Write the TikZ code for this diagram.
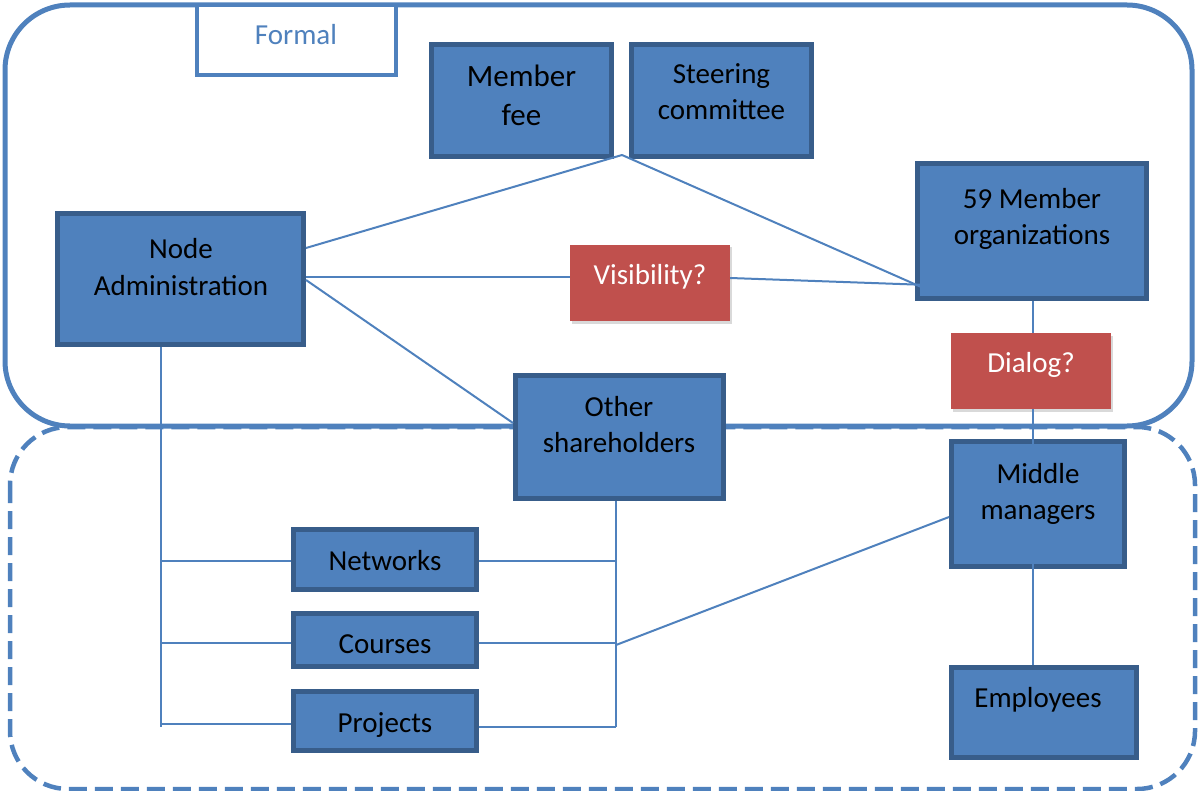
\documentclass[tikz,border=0pt]{standalone}
\usepackage{fontspec}
\setmainfont{Carlito}
\usetikzlibrary{shadows,calc}
\definecolor{accent}{HTML}{4F81BD}
\definecolor{accentdark}{HTML}{385D8A}
\definecolor{alert}{HTML}{C0504D}
% two centred lines whose first baseline is the box baseline
\newcommand{\twolines}[2]{\begin{tabular}[t]{@{}c@{}}#1\\#2\end{tabular}}

\begin{document}
\begin{tikzpicture}[x=1pt,y=-1pt,
  every node/.style={font=\fontsize{29}{36}\selectfont},
  bluebox/.style={draw=accentdark, line width=5pt, fill=accent, inner sep=0pt},
  redbox/.style={fill=alert, inner sep=0pt,
    drop shadow={shadow xshift=1.5pt, shadow yshift=-2.5pt, opacity=0.3}},
  lbl/.style={anchor=base, inner sep=0pt, text=black},
  wire/.style={draw=accent, line width=2pt},
  frame/.style={draw=accent, line width=5pt},
]
\useasboundingbox (0,0) rectangle (1198,791);

% informal area (dashed) and formal area (solid)
\draw[frame, line width=4.5pt, dash pattern=on 18pt off 8pt, rounded corners=58pt]
  (10,427) rectangle (1195,789);
\draw[frame, rounded corners=65pt] (5,5) rectangle (1192,426);
\draw[draw=accent, line width=4pt, fill=white] (197,5) rectangle (396,75);
\node[lbl, text=accent] (tformal) at (296,45) {Formal};

% boxes
\node[bluebox, minimum width=180pt, minimum height=112pt] (fee)     at (521.5,100.5) {};
\node[bluebox, minimum width=180pt, minimum height=112pt] (steer)   at (721.5,100.5) {};
\node[bluebox, minimum width=246pt, minimum height=131pt] (admin)   at (180.5,279) {};
\node[bluebox, minimum width=229pt, minimum height=135pt] (org)     at (1032,231) {};
\node[bluebox, minimum width=208pt, minimum height=123pt] (other)   at (619.5,437) {};
\node[bluebox, minimum width=173pt, minimum height=125pt] (middle)  at (1038,504) {};
\node[bluebox, minimum width=185pt, minimum height=90pt]  (empl)    at (1044,712.5) {};
\node[bluebox, minimum width=183pt, minimum height=60pt]  (net)     at (385,559.5) {};
\node[bluebox, minimum width=183pt, minimum height=53pt]  (courses) at (385,640) {};
\node[bluebox, minimum width=183pt, minimum height=59pt]  (proj)    at (385,721) {};
\node[redbox, minimum width=160pt, minimum height=76pt]   (vis)     at (650,283) {};
\node[redbox, minimum width=160pt, minimum height=76pt]   (dialog)  at (1031,371) {};

% box texts
\node[lbl, font=\fontsize{31}{39}\selectfont] (tfee) at (521.5,87) {\twolines{Member}{fee}};
\node[lbl] (tsteer)   at (721.5,84) {\twolines{Steering}{committee}};
\node[lbl] (tadmin)   at (181,259)  {\twolines{Node}{Administration}};
\node[lbl] (torg)     at (1032,209) {\twolines{59 Member}{organizations}};
\node[lbl] (tother)   at (619,416)  {\twolines{Other}{shareholders}};
\node[lbl] (tmiddle)  at (1038,483) {\twolines{Middle}{managers}};
\node[lbl] (templ)    at (1038,707) {Employees};
\node[lbl] (tnet)     at (385,570)  {Networks};
\node[lbl] (tcourses) at (385,653)  {Courses};
\node[lbl] (tproj)    at (385,732)  {Projects};
\node[lbl, text=white] (tvis)    at (650,285)  {Visibility?};
\node[lbl, text=white] (tdialog) at (1031,372) {Dialog?};

% connector end points
\coordinate (apex)    at (622,155);
\coordinate (orgin1)  at (928,290);
\coordinate (orgin2)  at (928,285);
\coordinate (midin)   at (1033,453);
\coordinate (midout)  at (1033,550);
\coordinate (lspine)  at (161,727);
\coordinate (rspine)  at (616,727);
\coordinate (rjoin)   at (616,645);

% connectors
\draw[wire] (apex) -- (admin.east |- 0,248);
\draw[wire] (apex) -- (orgin1);
\draw[wire] (admin.east |- 0,277) -- (vis.west |- 0,277);
\draw[wire] (vis.east |- 0,278) -- (orgin2);
\draw[wire] (admin.east |- 0,280) -- (other.west |- 0,423);
\draw[wire] (org.south -| midin) -- (dialog.north -| midin);
\draw[wire] (dialog.south -| midin) -- (midin);
\draw[wire] (midout) -- (midout |- empl.north);

\draw[wire] (admin.south -| lspine) -- (lspine);
\draw[wire] (lspine |- 0,561) -- (net.west |- 0,561);
\draw[wire] (lspine |- 0,643) -- (courses.west |- 0,643);
\draw[wire] (lspine |- 0,724) -- (proj.west |- 0,724);

\draw[wire] (other.south -| rspine) -- (rspine);
\draw[wire] (net.east |- 0,561) -- (rspine |- 0,561);
\draw[wire] (courses.east |- 0,643) -- (rspine |- 0,643);
\draw[wire] (proj.east |- 0,727) -- (rspine);
\draw[wire] (middle.west |- 0,517) -- (rjoin);
\end{tikzpicture}
\end{document}
